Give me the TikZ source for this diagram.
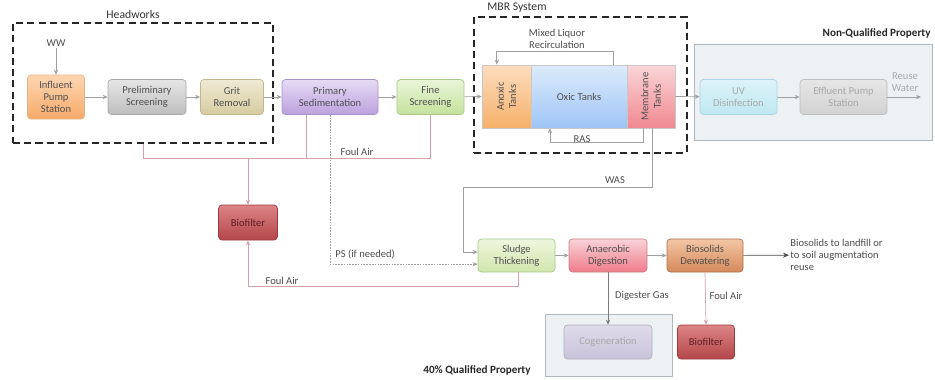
\documentclass[tikz,border=0pt]{standalone}
\usepackage{fontspec}
\setmainfont{Carlito}
\usetikzlibrary{positioning,arrows.meta,calc}
\definecolor{FlowGray}{RGB}{160,160,160}
\definecolor{AirPink}{RGB}{214,160,170}
\definecolor{GasLine}{RGB}{130,118,132}
\definecolor{BoxText}{RGB}{80,80,80}
\definecolor{InfTop}{HTML}{FDD6B4}
\definecolor{InfBot}{HTML}{F6AA68}
\definecolor{InfLine}{HTML}{E8B282}
\definecolor{PreTop}{HTML}{E6E6E6}
\definecolor{PreBot}{HTML}{BEBEBE}
\definecolor{PreLine}{HTML}{A8A8A8}
\definecolor{GritTop}{HTML}{F0EAD4}
\definecolor{GritBot}{HTML}{D6CBA0}
\definecolor{GritLine}{HTML}{C2B78C}
\definecolor{PrimTop}{HTML}{E6DAF4}
\definecolor{PrimBot}{HTML}{BCA2DE}
\definecolor{PrimLine}{HTML}{A892CA}
\definecolor{FineTop}{HTML}{E9F5D8}
\definecolor{FineBot}{HTML}{C4E29C}
\definecolor{FineLine}{HTML}{A8C98A}
\definecolor{AnoxLight}{HTML}{FCDDBE}
\definecolor{AnoxDark}{HTML}{F6B06A}
\definecolor{OxicTop}{HTML}{DDEBFC}
\definecolor{OxicBot}{HTML}{9EC5F6}
\definecolor{MemLight}{HTML}{FAD6D8}
\definecolor{MemDark}{HTML}{F08890}
\definecolor{TankLine}{HTML}{C8C8C8}
\definecolor{BioTop}{HTML}{DC8486}
\definecolor{BioBot}{HTML}{B4464A}
\definecolor{BioLine}{HTML}{9E3A3E}
\definecolor{BioText}{HTML}{5E1E22}
\definecolor{ThickTop}{HTML}{EEF6DE}
\definecolor{ThickBot}{HTML}{D0E6AC}
\definecolor{ThickLine}{HTML}{A9C68C}
\definecolor{AnaerTop}{HTML}{FAD2D8}
\definecolor{AnaerBot}{HTML}{EF7C8A}
\definecolor{AnaerLine}{HTML}{C98088}
\definecolor{DewTop}{HTML}{F4C6A4}
\definecolor{DewBot}{HTML}{D4895A}
\definecolor{DewLine}{HTML}{A8704A}
\definecolor{CogTop}{HTML}{DFDBEA}
\definecolor{CogBot}{HTML}{C9C3DA}
\definecolor{CogLine}{HTML}{B4AEC6}
\definecolor{UVTop}{HTML}{DDF3F8}
\definecolor{UVBot}{HTML}{BFE7F1}
\definecolor{UVLine}{HTML}{A8D6E2}
\definecolor{EffTop}{HTML}{E6E6E6}
\definecolor{EffBot}{HTML}{D2D2D2}
\definecolor{EffLine}{HTML}{BDBDBD}
\definecolor{ZoneFill}{HTML}{EEF1F3}
\definecolor{ZoneLine}{HTML}{AEB8C0}
\definecolor{FadeText}{HTML}{A8A8A8}
\tikzset{
  flow/.style={-{Stealth[length=1.5mm,width=1.3mm]},draw=FlowGray,line width=0.6pt},
  psflow/.style={flow,dash pattern=on 1.4pt off 1pt},
  airline/.style={draw=AirPink,line width=0.6pt},
  airflow/.style={airline,-{Stealth[length=1.5mm,width=1.3mm]}},
  gasflow/.style={-{Stealth[length=1.5mm,width=1.3mm]},draw=GasLine,line width=0.6pt},
  outflow/.style={-{Stealth[length=1.8mm,width=1.5mm]},draw=black!70,line width=0.6pt},
  box/.style={rounded corners=3pt,align=center,line width=0.6pt,inner sep=1pt,
    font=\fontsize{9}{10.5}\selectfont,text=BoxText,minimum height=1.05cm},
  tank/.style={align=center,line width=0.5pt,inner sep=1pt,draw=TankLine,
    font=\fontsize{9}{10.5}\selectfont,text=BoxText},
  groupbox/.style={draw=black!85,line width=1.8pt,dash pattern=on 6pt off 3.6pt},
  zonebox/.style={draw=ZoneLine,fill=ZoneFill,line width=0.8pt},
  lbl/.style={font=\fontsize{9}{10.5}\selectfont,text=black!70,inner sep=1pt},
  zonelbl/.style={font=\fontsize{9.5}{11}\selectfont\bfseries,text=black!85,inner sep=1pt}
}
\begin{document}
\begin{tikzpicture}[x=0.03cm,y=-0.03cm]
  \useasboundingbox (0,0) rectangle (935,379);
  % property zones
  \node[zonebox,minimum width=7.14cm,minimum height=2.88cm] (nonq) at (813,92) {};
  \node[zonelbl,anchor=east] (nonqlbl) at (932,33) {Non-Qualified Property};
  \node[zonebox,minimum width=3.81cm,minimum height=1.86cm] (qual) at (608.5,345) {};
  \node[zonelbl] (quallbl) at (477,370) {40\% Qualified Property};
  % groups
  \node[groupbox,minimum width=7.8cm,minimum height=3.6cm] (hw) at (143,83) {};
  \node[lbl,text=black!80,font=\fontsize{10}{12}\selectfont] (hwlbl) at (133,14) {Headworks};
  \node[groupbox,minimum width=6.39cm,minimum height=4.08cm] (mbr) at (580.5,85) {};
  \node[lbl,text=black!80,font=\fontsize{10}{12}\selectfont] (mbrlbl) at (517,8) {MBR System};
  % liquid train
  \node[lbl] (ww) at (56,43) {WW};
  \node[box,draw=InfLine,top color=InfTop,bottom color=InfBot,minimum width=1.71cm,minimum height=1.32cm] (inf) at (56,97) {Influent\\Pump\\Station};
  \node[box,draw=PreLine,top color=PreTop,bottom color=PreBot,minimum width=2.34cm] (prel) at (147,97) {Preliminary\\Screening};
  \node[box,draw=GritLine,top color=GritTop,bottom color=GritBot,minimum width=1.89cm] (grit) at (232,97) {Grit\\Removal};
  \node[box,draw=PrimLine,top color=PrimTop,bottom color=PrimBot,minimum width=2.88cm] (prim) at (330,97) {Primary\\Sedimentation};
  \node[box,draw=FineLine,top color=FineTop,bottom color=FineBot,minimum width=2.01cm] (fine) at (430.5,97) {Fine\\Screening};
  \node[tank,rotate=90,top color=AnoxLight,bottom color=AnoxDark,minimum width=1.89cm,minimum height=1.47cm] (anox) at (506.5,96.5) {Anoxic\\Tanks};
  \node[tank,top color=OxicTop,bottom color=OxicBot,minimum width=2.88cm,minimum height=1.89cm] (oxic) at (579,96.5) {Oxic Tanks};
  \node[tank,rotate=90,top color=MemLight,bottom color=MemDark,minimum width=1.89cm,minimum height=1.44cm] (mem) at (651,96.5) {Membrane\\Tanks};
  \node[box,draw=UVLine,top color=UVTop,bottom color=UVBot,text=FadeText,minimum width=2.31cm] (uv) at (738.5,97) {UV\\Disinfection};
  \node[box,draw=EffLine,top color=EffTop,bottom color=EffBot,text=FadeText,minimum width=2.61cm] (eff) at (843.5,97) {Effluent Pump\\Station};
  \coordinate (reuse) at (921,97);
  \node[lbl,text=FadeText,align=center] (reuselbl) at (905,82) {Reuse\\Water};
  \node[lbl,align=center] (mlrlbl) at (557,39) {Mixed Liquor\\Recirculation};
  \node[lbl] (raslbl) at (582,139) {RAS};
  % solids train
  \node[box,draw=BioLine,top color=BioTop,bottom color=BioBot,text=BioText,minimum width=1.77cm] (bio1) at (248,222.5) {Biofilter};
  \node[box,draw=ThickLine,top color=ThickTop,bottom color=ThickBot,minimum width=2.31cm,minimum height=0.99cm] (thick) at (516.5,255.5) {Sludge\\Thickening};
  \node[box,draw=AnaerLine,top color=AnaerTop,bottom color=AnaerBot,minimum width=2.34cm,minimum height=0.99cm] (anaer) at (608,255.5) {Anaerobic\\Digestion};
  \node[box,draw=DewLine,top color=DewTop,bottom color=DewBot,minimum width=2.28cm,minimum height=0.99cm] (dewat) at (705,255.5) {Biosolids\\Dewatering};
  \node[lbl,anchor=west,align=left] (bstext) at (789,255) {Biosolids to landfill or\\to soil augmentation\\reuse};
  \node[box,draw=CogLine,top color=CogTop,bottom color=CogBot,text=FadeText,minimum width=2.64cm,minimum height=1.02cm] (cogen) at (608,342) {Cogeneration};
  \node[box,draw=BioLine,top color=BioTop,bottom color=BioBot,text=BioText,minimum width=1.71cm,minimum height=1.02cm] (bio2) at (706,342) {Biofilter};
  \coordinate (foulL) at (143,158);
  \coordinate (foulR) at (430.5,158);
  \coordinate (foulB) at (248,286);
  \coordinate (wasturn) at (463,187);
  \node[lbl] (foul1lbl) at (357,152) {Foul Air};
  \node[lbl] (foul2lbl) at (282,281) {Foul Air};
  \node[lbl] (waslbl) at (615,180) {WAS};
  \node[lbl,anchor=west] (pslbl) at (334,254) {PS (if needed)};
  \node[lbl] (gaslbl) at (642,296) {Digester Gas};
  \node[lbl] (foul3lbl) at (726,296) {Foul Air};
  % liquid connectors
  \draw[flow] (ww) -- (inf);
  \draw[flow] (inf) -- (prel);
  \draw[flow] (prel) -- (grit);
  \draw[flow] (grit) -- (prim);
  \draw[flow] (prim) -- (fine);
  \draw[flow] (fine) -- (anox.north);
  \draw[flow] (mem.south) -- (uv);
  \draw[flow] (uv) -- (eff);
  \draw[flow] (eff) -- (reuse);
  \draw[flow] ([xshift=1.02cm]oxic.north) -- ++(0,-13) -| ([xshift=-0.29cm]anox.east);
  \draw[flow] ([xshift=-0.24cm]mem.west) -- ++(0,14) -| ([xshift=-0.87cm]oxic.south);
  % foul air
  \draw[airline] (hw.south) -- (foulL) -- (foulR) -- (fine.south);
  \draw[airline] ([xshift=-0.72cm]prim.south) -- ([xshift=-0.72cm]prim.south |- foulL);
  \draw[airflow] (bio1 |- foulL) -- (bio1.north);
  \draw[airflow] ([xshift=0.05cm]thick.south) |- (foulB) -- (bio1.south);
  \draw[airflow] (dewat.south) -- (bio2.north);
  % solids connectors
  \draw[flow] ([xshift=0.03cm]mem.west) |- (wasturn) |- ([yshift=0.1cm]thick.west);
  \draw[psflow] (prim.south) |- ([yshift=-0.26cm]thick.west);
  \draw[flow] (thick) -- (anaer);
  \draw[flow] (anaer) -- (dewat);
  \draw[outflow] (dewat) -- (bstext);
  \draw[gasflow] (anaer) -- (cogen);
\end{tikzpicture}
\end{document}
